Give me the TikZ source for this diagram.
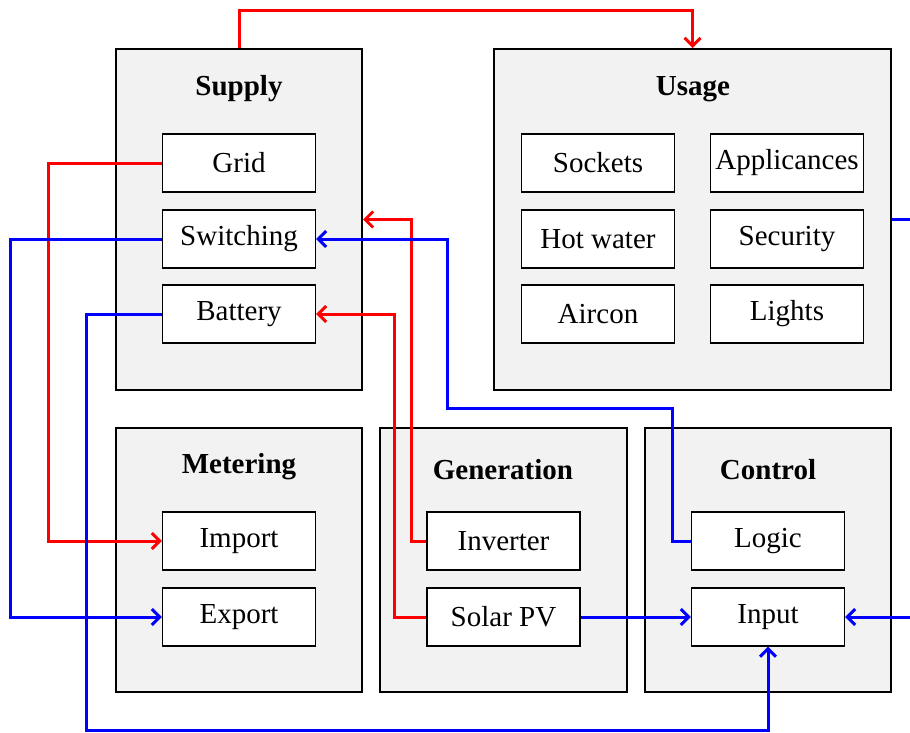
\documentclass[tikz,border=0pt]{standalone}
\usepackage{fontspec}
\setmainfont{Liberation Serif}
\usetikzlibrary{arrows.meta,calc}
\definecolor{groupfill}{HTML}{F2F2F2}
\tikzset{
  group/.style={draw=black, line width=1pt, fill=groupfill, inner sep=0pt, minimum height=170.5pt},
  item/.style={draw=black, line width=0.6pt, fill=white, inner sep=0pt,
    minimum width=76.5pt, minimum height=29pt, font=\fontsize{14.5}{17}\selectfont},
  title/.style={font=\fontsize{14.5}{17}\selectfont\bfseries},
  redlink/.style={draw=red, line width=1.5pt, -{Straight Barb[length=4pt,width=8pt]}},
  bluelink/.style={draw=blue, line width=1.5pt, -{Straight Barb[length=4pt,width=8pt]}},
}
\begin{document}
\begin{tikzpicture}[x=0.5pt,y=-0.5pt]
\useasboundingbox (0,0) rectangle (910,733);

% outer groups
\node[group, minimum width=123pt] (supply) at (239,219.5) {};
\node[group, minimum width=198.5pt] (usage) at (692.5,219.5) {};
\node[group, minimum width=123pt, minimum height=132pt] (metering) at (239,560) {};
\node[group, minimum width=123.5pt, minimum height=132pt] (generation) at (503.5,560) {};
\node[group, minimum width=123pt, minimum height=132pt] (control) at (768,560) {};

% group titles
\node[title] (tsupply) at (239,89) {Supply};
\node[title] (tusage) at (693,89) {Usage};
\node[title] (tmetering) at (239,467) {Metering};
\node[title] (tgeneration) at (503,470) {Generation};
\node[title] (tcontrol) at (768,470) {Control};

% supply items
\node[item] (grid) at (239,163) {Grid};
\node[item] (switching) at (239,239) {Switching};
\node[item] (battery) at (239,314) {Battery};

% usage items
\node[item] (sockets) at (598,163) {Sockets};
\node[item] (appliances) at (787,163) {Applicances};
\node[item] (hotwater) at (598,239) {Hot water};
\node[item] (security) at (787,239) {Security};
\node[item] (aircon) at (598,314) {Aircon};
\node[item] (lights) at (787,314) {Lights};

% metering items
\node[item] (import) at (239,541) {Import};
\node[item] (export) at (239,617) {Export};

% generation items
\node[item] (inverter) at (503.5,541) {Inverter};
\node[item] (solar) at (503.5,617) {Solar PV};

% control items
\node[item] (logic) at (768,541) {Logic};
\node[item] (input) at (768,617) {Input};

% power flows
\draw[redlink] (supply.north) -- ++(0,-37) -| (usage.north);
\draw[redlink] (grid.west) -- ++(-113,0) |- (import.west);
\draw[redlink] (inverter.west) -- ++(-15,0) |- (supply.east);
\draw[redlink] (solar.west) -- ++(-32,0) |- (battery.east);

% signal flows
\draw[bluelink] (switching.west) -- ++(-151,0) |- (export.west);
\draw[bluelink] (battery.west) -- ++(-75,0) |- ($(input.south)+(0,84)$) -- (input.south);
\draw[bluelink] (logic.west) -- ++(-18,0) -- ++(0,-133) -| ($(switching.east)+(131,0)$) -- (switching.east);
\draw[bluelink] (solar.east) -- (input.west);
\draw[bluelink] (usage.east) -- ++(40,0) |- (input.east);
\end{tikzpicture}
\end{document}
